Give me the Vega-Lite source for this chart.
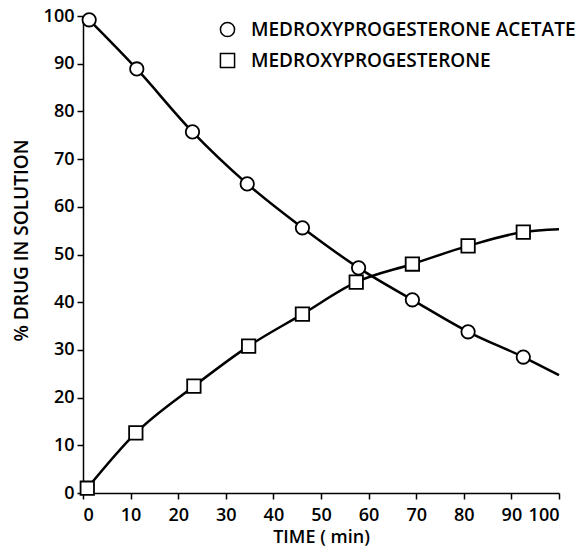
{
  "$schema": "https://vega.github.io/schema/vega-lite/v6.json",
  "autosize": "none",
  "width": 476,
  "height": 477,
  "padding": {"left": 83, "top": 16, "right": 29, "bottom": 59},
  "background": "white",
  "config": {
    "view": {"stroke": null},
    "font": "Open Sans",
    "axis": {
      "grid": false,
      "domainColor": "black",
      "domainWidth": 1.5,
      "tickColor": "black",
      "tickWidth": 1.5,
      "tickSize": 6,
      "labelColor": "black",
      "labelFontSize": 18,
      "labelFont": "Open Sans",
      "labelFontWeight": 600,
      "titleColor": "black",
      "titleFont": "Open Sans",
      "titleFontSize": 19,
      "titleFontWeight": 600
    }
  },
  "data": {
    "values": [
      {"drug": "MEDROXYPROGESTERONE ACETATE", "time": 1.3, "pct": 99.2, "marker": true},
      {"drug": "MEDROXYPROGESTERONE ACETATE", "time": 11.3, "pct": 88.9, "marker": true},
      {"drug": "MEDROXYPROGESTERONE ACETATE", "time": 23.0, "pct": 75.7, "marker": true},
      {"drug": "MEDROXYPROGESTERONE ACETATE", "time": 34.5, "pct": 64.8, "marker": true},
      {"drug": "MEDROXYPROGESTERONE ACETATE", "time": 46.1, "pct": 55.6, "marker": true},
      {"drug": "MEDROXYPROGESTERONE ACETATE", "time": 57.9, "pct": 47.2, "marker": true},
      {"drug": "MEDROXYPROGESTERONE ACETATE", "time": 69.2, "pct": 40.5, "marker": true},
      {"drug": "MEDROXYPROGESTERONE ACETATE", "time": 80.9, "pct": 33.8, "marker": true},
      {"drug": "MEDROXYPROGESTERONE ACETATE", "time": 92.5, "pct": 28.5, "marker": true},
      {"drug": "MEDROXYPROGESTERONE ACETATE", "time": 100, "pct": 24.7, "marker": false},
      {"drug": "MEDROXYPROGESTERONE", "time": 0.9, "pct": 1.0, "marker": true},
      {"drug": "MEDROXYPROGESTERONE", "time": 11.1, "pct": 12.6, "marker": true},
      {"drug": "MEDROXYPROGESTERONE", "time": 23.3, "pct": 22.4, "marker": true},
      {"drug": "MEDROXYPROGESTERONE", "time": 34.8, "pct": 30.8, "marker": true},
      {"drug": "MEDROXYPROGESTERONE", "time": 46.1, "pct": 37.5, "marker": true},
      {"drug": "MEDROXYPROGESTERONE", "time": 57.4, "pct": 44.2, "marker": true},
      {"drug": "MEDROXYPROGESTERONE", "time": 69.2, "pct": 48.0, "marker": true},
      {"drug": "MEDROXYPROGESTERONE", "time": 80.9, "pct": 51.8, "marker": true},
      {"drug": "MEDROXYPROGESTERONE", "time": 92.5, "pct": 54.7, "marker": true},
      {"drug": "MEDROXYPROGESTERONE", "time": 100, "pct": 55.3, "marker": false}
    ]
  },
  "encoding": {
    "x": {
      "field": "time", "type": "quantitative",
      "scale": {"domain": [0, 100], "nice": false},
      "axis": {"values": [0,10,20,30,40,50,60,70,80,90,100], "title": "TIME ( min)", "labelPadding": 7, "titlePadding": 4, "titleFontSize": 18}
    },
    "y": {
      "field": "pct", "type": "quantitative",
      "scale": {"domain": [0, 100], "nice": false},
      "axis": {"values": [0,10,20,30,40,50,60,70,80,90,100], "title": "% DRUG IN SOLUTION", "labelPadding": 3, "titlePadding": 12, "titleY": 224}
    }
  },
  "layer": [
    {
      "mark": {"type": "line", "interpolate": "monotone", "color": "black", "strokeWidth": 2.5},
      "encoding": {"detail": {"field": "drug"}}
    },
    {
      "transform": [{"filter": "datum.marker"}],
      "mark": {"type": "point", "filled": false, "color": "black", "fill": "white", "stroke": "black", "strokeWidth": 1.8, "size": 180, "opacity": 1, "fillOpacity": 1},
      "encoding": {
        "shape": {
          "field": "drug", "type": "nominal",
          "scale": {"domain": ["MEDROXYPROGESTERONE ACETATE", "MEDROXYPROGESTERONE"], "range": ["circle", "square"]},
          "legend": {
            "title": null,
            "orient": "none",
            "legendX": 135,
            "legendY": 4,
            "symbolSize": 200,
            "labelFontSize": 19,
            "labelFont": "Open Sans",
            "labelFontWeight": 600,
            "labelColor": "black",
            "labelLimit": 0,
            "labelOffset": 14,
            "rowPadding": 10,
            "encode": {
              "symbols": {
                "update": {
                  "fill": {"value": "white"},
                  "stroke": {"value": "black"},
                  "strokeWidth": {"value": 1.8},
                  "opacity": {"value": 1}
                }
              }
            }
          }
        }
      }
    }
  ]
}
